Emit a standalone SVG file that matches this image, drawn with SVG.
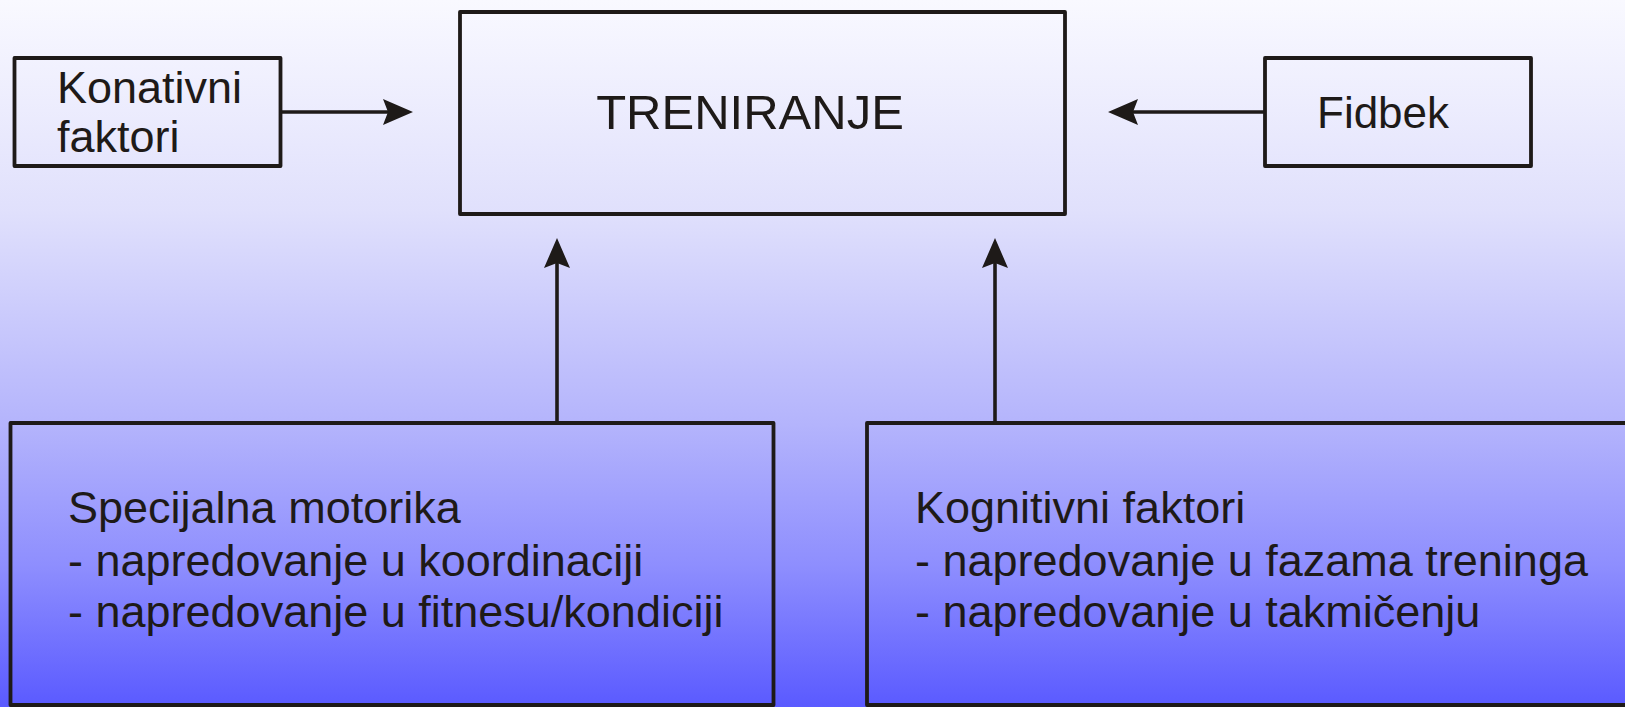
<svg xmlns="http://www.w3.org/2000/svg" width="1625" height="707" viewBox="0 0 1625 707">
<style>
.box{fill:none;stroke:#1e1a18;stroke-width:3.8;stroke-linejoin:round}
.t{font-family:"Liberation Sans",Arial,sans-serif;font-size:45px;fill:#1e1a18}
.conn{stroke:#1e1a18;stroke-width:3.6;fill:none}
</style>
<defs>
<linearGradient id="bg" x1="0" y1="0" x2="0" y2="1">
<stop offset="0" stop-color="#f9f9ff"/>
<stop offset="0.3" stop-color="#e0e0fc"/>
<stop offset="0.6" stop-color="#b4b4fc"/>
<stop offset="0.8" stop-color="#8e8efe"/>
<stop offset="1" stop-color="#5a5aff"/>
</linearGradient>
<marker id="ah" markerUnits="userSpaceOnUse" markerWidth="32" markerHeight="28" refX="5" refY="0" orient="auto" overflow="visible">
<path d="M30,0 L0,-13 L5,0 L0,13 Z" fill="#1e1a18"/>
</marker>
</defs>
<rect x="0" y="0" width="1625" height="707" fill="url(#bg)"/>
<g id="konativni">
<rect class="box" x="14.5" y="58" width="266" height="108"/>
<text class="t" x="57" y="103">Konativni</text>
<text class="t" x="57" y="152">faktori</text>
</g>
<g id="treniranje">
<rect class="box" x="460" y="12" width="605" height="202"/>
<text class="t" x="750" y="129" text-anchor="middle" style="font-size:49px">TRENIRANJE</text>
</g>
<g id="fidbek">
<rect class="box" x="1265" y="58" width="266" height="108"/>
<text class="t" x="1317" y="128" style="font-size:44px">Fidbek</text>
</g>
<g id="motorika">
<rect class="box" x="10.5" y="423" width="763" height="282"/>
<text class="t" x="68" y="523">Specijalna motorika</text>
<text class="t" x="68" y="576">- napredovanje u koordinaciji</text>
<text class="t" x="68" y="627">- napredovanje u fitnesu/kondiciji</text>
</g>
<g id="kognitivni">
<rect class="box" x="867" y="423" width="800" height="282"/>
<text class="t" x="915" y="523">Kognitivni faktori</text>
<text class="t" x="915" y="576">- napredovanje u fazama treninga</text>
<text class="t" x="915" y="627">- napredovanje u takmičenju</text>
</g>
<g id="connectors">
<line class="conn" x1="281" y1="112" x2="388" y2="112" marker-end="url(#ah)"/>
<line class="conn" x1="1265" y1="112" x2="1133" y2="112" marker-end="url(#ah)"/>
<line class="conn" x1="557" y1="423" x2="557" y2="263" marker-end="url(#ah)"/>
<line class="conn" x1="995" y1="423" x2="995" y2="263" marker-end="url(#ah)"/>
</g>
</svg>
